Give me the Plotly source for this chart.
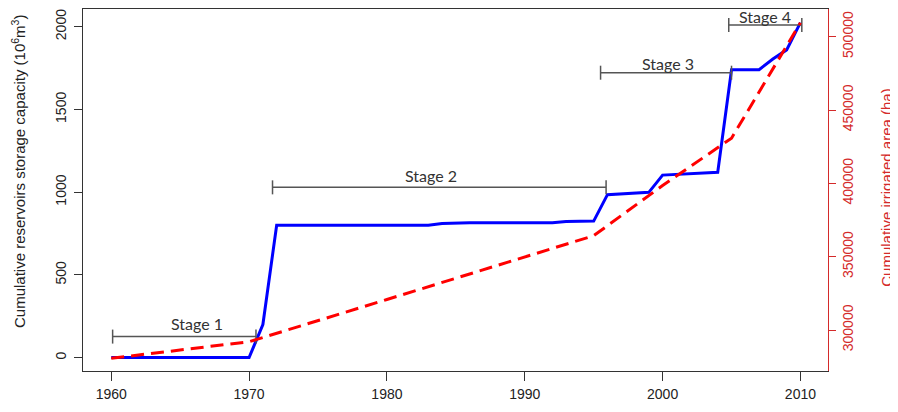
import plotly.graph_objects as go

# Cumulative reservoirs storage capacity (10^6 m^3)
years_storage = [1960, 1970, 1971, 1972, 1983, 1984, 1986, 1992, 1993, 1995,
                 1996, 1999, 2000, 2004, 2005, 2007, 2008, 2009, 2010]
storage = [0, 0, 200, 800, 800, 810, 815, 815, 822, 825,
           985, 999, 1103, 1120, 1740, 1740, 1805, 1860, 2025]

# Cumulative irrigated area (ha)
years_irrig = [1960, 1965, 1970, 1980, 1990, 1995, 2000, 2005, 2010]
irrigated = [280700, 286300, 292000, 320800, 349500, 364300, 398500, 430800, 509500]

# Development stages
stage_names = ["Stage 1", "Stage 2", "Stage 3", "Stage 4"]
stage_start = [1960.1, 1971.7, 1995.5, 2004.8]
stage_end = [1970.5, 1995.9, 2005.0, 2010.1]
stage_level = [127, 1029, 1722, 2010]
stage_label_x = [1966.2, 1983.2, 2000.4, 2007.4]
stage_label_y = [205, 1100, 1779, 2060]

x_ticks = [1960, 1970, 1980, 1990, 2000, 2010]
y_ticks = [0, 500, 1000, 1500, 2000]
y2_ticks = [300000, 350000, 400000, 450000, 500000]

RED = "#D42A2A"
fig = go.Figure()

fig.add_trace(go.Scatter(
    x=years_storage, y=storage, mode="lines",
    line=dict(color="#0000FF", width=3), yaxis="y", showlegend=False,
))
fig.add_trace(go.Scatter(
    x=years_irrig, y=irrigated, mode="lines",
    line=dict(color="#FF0000", width=3, dash="13px,7px"), yaxis="y2", showlegend=False,
))

for name, s, e, lv, lx, ly in zip(stage_names, stage_start, stage_end, stage_level,
                                  stage_label_x, stage_label_y):
    fig.add_trace(go.Scatter(
        x=[s, e], y=[lv, lv], mode="lines+markers", yaxis="y",
        line=dict(color="#555555", width=1.5),
        marker=dict(symbol="line-ns", size=10, line=dict(color="#555555", width=1.5)),
        showlegend=False, hoverinfo="skip",
    ))
    fig.add_annotation(x=lx, y=ly, xref="x", yref="y", text=name, showarrow=False,
                       font=dict(family="Lato", size=16, color="#333333"),
                       xanchor="center", yanchor="middle")

fig.add_annotation(
    text="Cumulative reservoirs storage capacity (10<sup>6</sup>m<sup>3</sup>)",
    xref="paper", yref="paper", x=-0.0872, y=0.5497, textangle=-90,
    showarrow=False, xanchor="center", yanchor="middle",
    font=dict(family="Liberation Sans", size=15, color="#222222"),
)
fig.add_annotation(
    text="Cumulative irrigated area (ha)",
    xref="paper", yref="paper", x=1.0775, y=0.5055, textangle=-90,
    showarrow=False, xanchor="center", yanchor="middle",
    font=dict(family="Liberation Sans", size=15, color=RED),
)

fig.update_layout(
    width=890, height=396,
    margin=dict(l=75, r=70, t=1, b=33, autoexpand=False),
    plot_bgcolor="white", paper_bgcolor="white",
    xaxis=dict(
        range=[1957.95, 2012.0], tickvals=x_ticks, ticks="outside", ticklen=9,
        tickcolor="#333333", showline=True, linecolor="#333333", linewidth=1,
        mirror=True, showgrid=False, zeroline=False, automargin=False,
        tickfont=dict(family="Liberation Sans", size=14, color="#222222"),
        ticklabelstandoff=1,
    ),
    yaxis=dict(
        range=[-81, 2107], tickvals=y_ticks, ticks="outside", ticklen=8,
        tickcolor="#333333", showline=True, linecolor="#333333", linewidth=1,
        showgrid=False, zeroline=False, tickangle=-90, automargin=False,
        tickfont=dict(family="Liberation Sans", size=14, color="#222222"),
        ticklabelstandoff=2,
    ),
    yaxis2=dict(
        range=[272040, 518890], tickvals=y2_ticks,
        ticktext=[str(v) for v in y2_ticks], ticks="outside", ticklen=7,
        tickcolor=RED, showline=True, linecolor=RED, linewidth=1,
        overlaying="y", side="right", showgrid=False, zeroline=False, tickangle=-90,
        automargin=False,
        tickfont=dict(family="Liberation Sans", size=14, color=RED),
    ),
)

fig.write_html("out.html")
